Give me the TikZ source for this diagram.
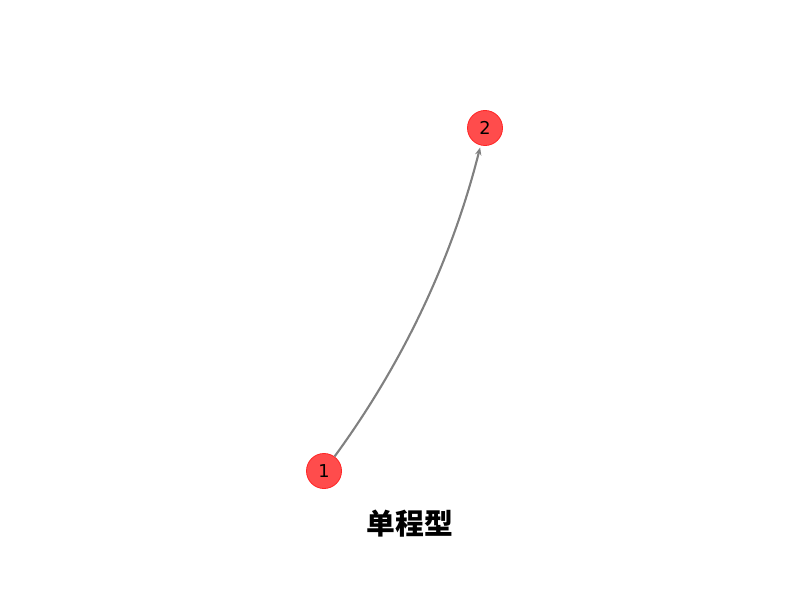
\documentclass[tikz,border=0pt]{standalone}
\usepackage{fontspec}
\setmainfont{DejaVu Sans}
\newfontfamily\cjk{Noto Sans CJK SC}
\usetikzlibrary{arrows.meta}

\begin{document}
\begin{tikzpicture}[x=0.025cm,y=0.025cm,
  main node/.style={circle,draw=red!85,line width=0.6pt,fill=red!70,
    minimum size=0.875cm,inner sep=0pt,font=\fontsize{12.6}{15}\selectfont},
  main edge/.style={draw=black!50,line width=1.5pt,
    -{Stealth[length=5.5pt,width=4.5pt]},shorten >=1.5pt}]

  \useasboundingbox (0,0) rectangle (800,600);

  \node[main node] (n1) at (324,129) {1};
  \node[main node] (n2) at (485,472) {2};

  \draw[main edge] (n1) to[bend right=11,looseness=0.87] (n2);

  \node (title) at (410,76) {\cjk\bfseries\fontsize{20.5}{25}\selectfont 单程型};

\end{tikzpicture}
\end{document}
